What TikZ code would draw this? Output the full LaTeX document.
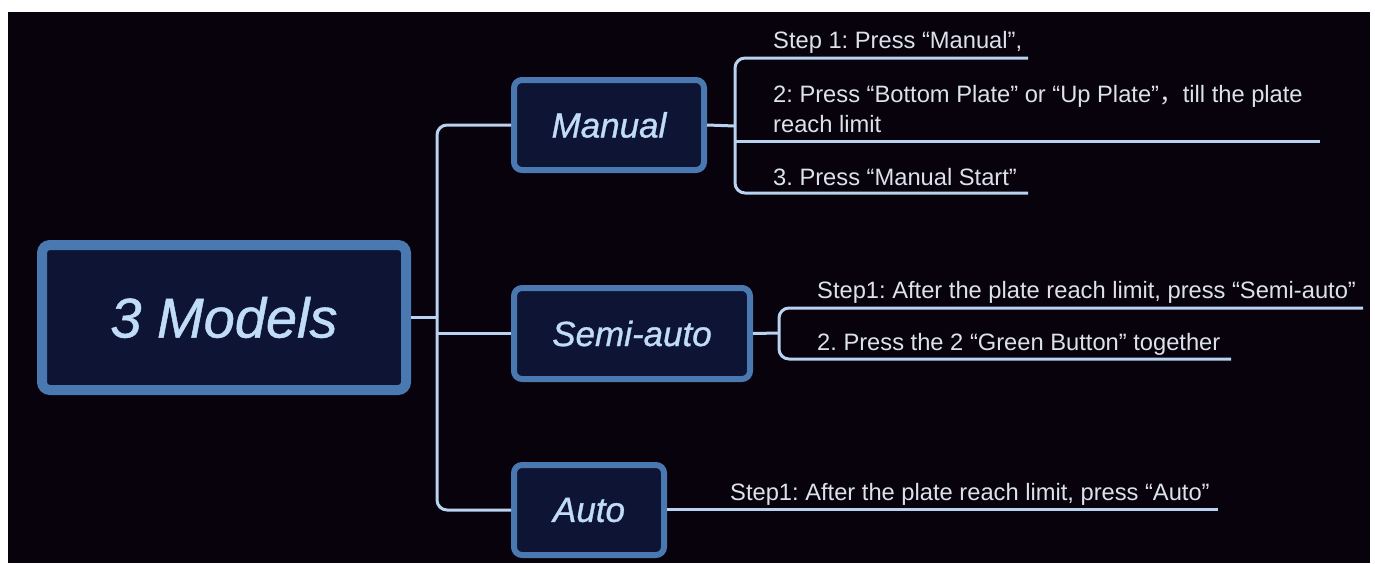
\documentclass[tikz,border=0pt]{standalone}
\usepackage{fontspec}
\setmainfont{Liberation Sans}
\newfontfamily\topicfont[FakeBold=0.9]{Liberation Sans}
\newfontfamily\cjk{Noto Sans CJK SC}
\definecolor{bgdark}{HTML}{08020D}
\definecolor{boxfill}{HTML}{0E1434}
\definecolor{boxborder}{HTML}{4A78B0}
\definecolor{linecol}{HTML}{B8D2F0}
\definecolor{nodetext}{HTML}{C0DCF8}
\definecolor{leaftext}{HTML}{DCE2EC}
\tikzset{
  topicbox/.style={draw=boxborder, fill=boxfill, rounded corners=8pt, inner sep=0pt,
    text=nodetext, font=\topicfont\fontsize{35}{40}\selectfont\itshape, line width=6pt},
  rootbox/.style={topicbox, line width=10pt, font=\topicfont\fontsize{56}{60}\selectfont\itshape},
  conn/.style={draw=linecol, line width=3pt, rounded corners=10pt},
  leaf/.style={anchor=base west, inner sep=0pt, text=leaftext, font=\fontsize{23.7}{28}\selectfont\frenchspacing},
}
\begin{document}
\begin{tikzpicture}[x=1pt,y=-1pt]
\fill[white] (0,0) rectangle (1375,563);
\fill[bgdark] (8,12) rectangle (1370,563);
\useasboundingbox (0,0) rectangle (1375,563);

% topic nodes
\node[rootbox, minimum width=364pt, minimum height=145pt] (root) at (224,317.5) {3 Models};
\node[topicbox, minimum width=190pt, minimum height=90pt] (manual) at (609,125) {Manual};
\node[topicbox, minimum width=236pt, minimum height=91pt] (semi) at (632,333.5) {Semi-auto};
\node[topicbox, minimum width=150pt, minimum height=90pt] (auto) at (589,510) {Auto};

% trunk
\coordinate (tr) at (437,317);
\draw[conn] (manual.west) -| (tr) |- (auto.west);
\draw[conn] (root.east) -- (root.east -| tr);
\draw[conn] (semi.west) -- (semi.west -| tr);

% manual leaves
\coordinate (mb) at (735,126);
\coordinate (m1) at (1028,58);
\coordinate (m2) at (1320,141);
\coordinate (m3) at (1028,193);
\draw[conn] (manual.east) -- (mb);
\draw[conn] (m1) -| (mb) |- (m3);
\draw[conn] (m2) -- (m2 -| mb);
\node[leaf] (t1) at (773,48) {Step 1: Press “Manual”,};
\node[leaf] (t2) at (773,102) {2: Press “Bottom Plate” or “Up Plate”{\cjk ，}till the plate};
\node[leaf] (t2b) at (773,132) {reach limit};
\node[leaf] (t3) at (773,185) {3. Press “Manual Start”};

% semi leaves
\coordinate (sb) at (779,333);
\coordinate (s1) at (1363,308);
\coordinate (s2) at (1231,359);
\draw[conn] (semi.east) -- (sb);
\draw[conn] (s1) -| (sb) |- (s2);
\node[leaf] (u1) at (817,298) {Step1: After the plate reach limit, press “Semi-auto”};
\node[leaf] (u2) at (817,350) {2. Press the 2 “Green Button” together};

% auto leaf
\coordinate (a1) at (1218,509);
\draw[conn] (auto.east |- a1) -- (a1);
\node[leaf] (v1) at (730,500) {Step1: After the plate reach limit, press “Auto”};
\end{tikzpicture}
\end{document}
